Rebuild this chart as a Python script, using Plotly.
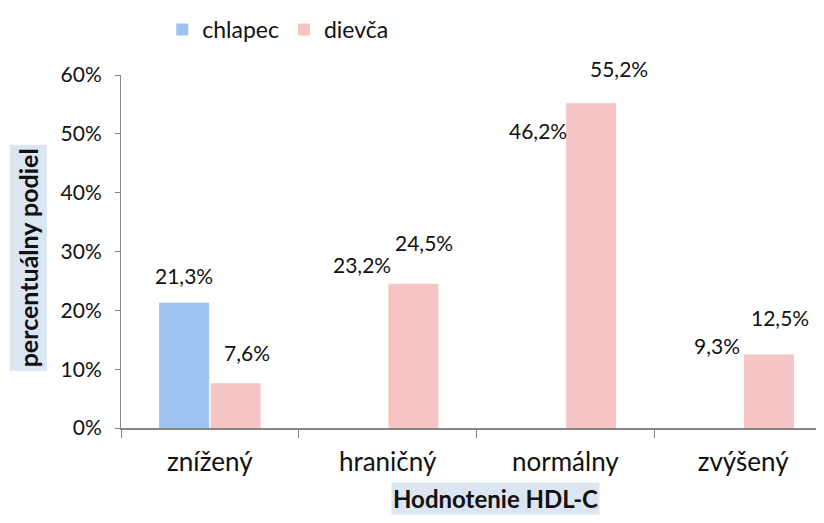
import plotly.graph_objects as go

categories = ["znížený", "hraničný", "normálny", "zvýšený"]
chlapec = [21.3, 23.2, 46.2, 9.3]
dievca = [7.6, 24.5, 55.2, 12.5]
y_ticks = [0, 10, 20, 30, 40, 50, 60]
y_tick_labels = ["0%", "10%", "20%", "30%", "40%", "50%", "60%"]

# style: in the reference only the first "chlapec" bar is painted
BLUE = "#9dc3f0"
PINK = "#f5c4c5"
chlapec_colors = [BLUE, "rgba(0,0,0,0)", "rgba(0,0,0,0)", "rgba(0,0,0,0)"]

# label nudges (pixels) for the data labels
chl_nudge = [(-26, 27), (-26, 27), (-27, 26), (-26, 28)]
die_nudge = [(37, 31), (36, 41), (54, 35), (37, 37)]

FONT = "Lato, 'Open Sans', sans-serif"


def fmt(v):
    return f"{v:.1f}".replace(".", ",") + "%"


fig = go.Figure()
fig.add_trace(go.Bar(name="chlapec", x=categories, y=chlapec,
                     marker=dict(color=chlapec_colors, line=dict(width=0))))
fig.add_trace(go.Bar(name="dievča", x=categories, y=dievca,
                     marker=dict(color=PINK, line=dict(width=0))))

ann = []
for c, v, (dx, dy) in zip(categories, chlapec, chl_nudge):
    ann.append(dict(x=c, y=v, xref="x", yref="y", text=fmt(v), showarrow=False,
                    xanchor="center", yanchor="middle",
                    xshift=dx, yshift=dy, font=dict(size=21, color="#111")))
for c, v, (dx, dy) in zip(categories, dievca, die_nudge):
    ann.append(dict(x=c, y=v, xref="x", yref="y", text=fmt(v), showarrow=False,
                    xanchor="center", yanchor="middle",
                    xshift=dx, yshift=dy, font=dict(size=21, color="#111")))

ann.append(dict(text="<b>percentuálny podiel</b>", textangle=-90, xref="paper", yref="paper",
                x=-0.131, y=0.483, xanchor="center", yanchor="middle", showarrow=False,
                bgcolor="#dce6f2", font=dict(size=25, color="#111"), borderpad=3))
ann.append(dict(text="<b>Hodnotenie HDL-C</b>", xref="paper", yref="paper",
                x=0.527, y=-0.199, xanchor="center", yanchor="middle", showarrow=False,
                bgcolor="#dce6f2", font=dict(size=24, color="#111"), borderpad=1))

fig.update_layout(
    width=824, height=523,
    margin=dict(l=113, r=0, t=64, b=103),
    paper_bgcolor="white", plot_bgcolor="white",
    font=dict(family=FONT, color="#111"),
    barmode="group", bargap=0.42, bargroupgap=0.03,
    legend=dict(orientation="h", x=0.058, y=1.13, xanchor="left", yanchor="middle",
                font=dict(size=23, color="#111"), itemwidth=30, traceorder="normal"),
    annotations=ann,
    xaxis=dict(type="category", range=[-0.5, 3.5], showline=True, linecolor="#868686",
               linewidth=2, ticks="outside", tickson="boundaries", ticklen=8,
               tickcolor="#868686", tickfont=dict(size=26, color="#111"),
               ticklabelstandoff=10, showgrid=False, fixedrange=True),
    yaxis=dict(range=[0, 60], tickvals=y_ticks, ticktext=y_tick_labels, showline=True,
               linecolor="#868686", linewidth=1, ticks="outside", ticklen=5,
               tickcolor="#868686", tickfont=dict(size=21, color="#111"),
               ticklabelstandoff=9, showgrid=False, zeroline=False, fixedrange=True),
)

fig.write_html("out.html")
